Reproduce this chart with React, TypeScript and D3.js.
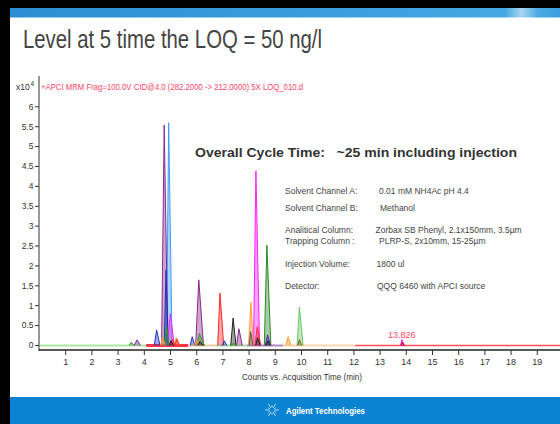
import * as d3 from 'd3'

// chromatogram peaks: start / apex / end time (min), apex height (x10^4 counts)
const peakStart = [3.42, 3.62, 4.38, 4.62, 4.66, 4.76, 4.77, 4.85, 4.90, 5.00, 4.95, 5.15, 5.17, 5.75, 5.92, 5.96, 6.00, 6.05, 6.80, 6.97, 7.30, 7.30, 7.52, 7.98, 8.00, 8.17, 8.22, 8.25, 8.58, 8.62, 8.65, 9.40, 9.83, 9.85, 13.78, 13.80]
const peakApex = [3.50, 3.72, 4.47, 4.70, 4.76, 4.83, 4.85, 4.93, 4.99, 5.07, 5.02, 5.22, 5.24, 5.83, 6.00, 6.08, 6.10, 6.12, 6.89, 7.05, 7.39, 7.40, 7.61, 8.07, 8.06, 8.26, 8.31, 8.32, 8.68, 8.70, 8.72, 9.49, 9.92, 9.92, 13.83, 13.85]
const peakEnd = [3.62, 3.85, 4.60, 4.80, 4.90, 4.92, 4.95, 5.06, 5.15, 5.18, 5.12, 5.35, 5.35, 5.93, 6.12, 6.26, 6.30, 6.25, 7.03, 7.15, 7.50, 7.55, 7.74, 8.16, 8.15, 8.40, 8.45, 8.42, 8.83, 8.82, 8.80, 9.60, 10.06, 10.00, 13.92, 13.93]
const peakHeight = [0.08, 0.14, 0.39, 0.2, 5.54, 1.9, 0.49, 5.6, 0.8, 0.15, 0.12, 0.2, 0.15, 0.22, 0.14, 1.65, 0.3, 0.1, 1.32, 0.12, 0.69, 0.05, 0.42, 1.09, 0.35, 4.39, 0.47, 0.2, 2.52, 0.27, 0.12, 0.22, 0.97, 0.15, 0.15, 0.08]
const peakColor = ['#2b9a2b', '#7a2a9a', '#2233bb', '#ff9a30', '#8b2a8b', '#2233bb', '#2b9a2b', '#3a9cff', '#ff22ff', '#ff2828', '#222222', '#ff9a30', '#ff2828', '#2233bb', '#ff9a30', '#8b2a8b', '#2b9a2b', '#222222', '#ff2828', '#2233bb', '#222222', '#2b9a2b', '#8b2a8b', '#ff9a30', '#555555', '#ff22ff', '#ff2828', '#222222', '#2b8a2b', '#5522aa', '#222222', '#ff9a30', '#66c866', '#806020', '#ff22ff', '#aa0022']

// coloured baseline pieces of the overlaid traces
const baseStart = [0, 4.07, 5.67, 6.72, 7.9, 9.3, 12.05]
const baseEnd = [4.07, 5.67, 6.72, 7.9, 9.3, 12.05, 20]
const baseColor = ['#aee6a6', '#ff3344', '#f6cc9e', '#a8dca0', '#b58ac4', '#fbd6b0', '#ff4d5a']
const baseWidth = [1.8, 3, 2, 2, 2, 2, 1.6]

const xTicks = d3.range(1, 20)
const yTicks = d3.range(0, 6.01, 0.5)

const specLabels = ['Solvent Channel A:', 'Solvent Channel B:', 'Analitical Column:', 'Trapping Column :', 'Injection Volume:', 'Detector:']
const specValues = ['0.01 mM NH4Ac pH 4.4', 'Methanol', 'Zorbax SB Phenyl, 2.1x150mm, 3.5µm', 'PLRP-S, 2x10mm, 15-25µm', '1800 ul', 'QQQ 6460 with APCI source']
const specY = [191, 208, 230.5, 241.5, 264, 286]
const specValueX = [379, 380, 375.5, 379, 376.5, 377]

const W = 560
const H = 424
const font = '"Liberation Sans Narrow", "Liberation Sans", Arial, sans-serif'

export default function App() {
  const x = d3.scaleLinear().domain([0, 20]).range([39.5, 563.5])
  const y = d3.scaleLinear().domain([0, 6]).range([345.5, 106.8])
  const line = d3.line<[number, number]>().x(d => x(d[0])).y(d => y(d[1]))

  const peaks = peakApex.map((t, i) => ({
    pts: [[peakStart[i], 0], [t, peakHeight[i]], [peakEnd[i], 0]] as [number, number][],
    color: peakColor[i],
    h: peakHeight[i],
  }))
  // draw tall peaks first so the small ones sit on top
  const ordered = [...peaks].sort((a, b) => b.h - a.h)

  const spark = d3.range(0, 360, 30)

  return (
    <svg width={W} height={H} style={{ position: 'fixed', left: 0, top: 0 }}>
      <defs>
        <linearGradient id="band" x1="0" x2="1" y1="0" y2="0">
          <stop offset="0" stopColor="#2c8dd4" />
          <stop offset="0.6" stopColor="#3a9fdd" />
          <stop offset="0.9" stopColor="#45a8e2" />
          <stop offset="0.93" stopColor="#a9d6f2" />
          <stop offset="0.96" stopColor="#4aa9e2" />
          <stop offset="1" stopColor="#3aa0de" />
        </linearGradient>
        <clipPath id="plot">
          <rect x={39} y={70} width={W - 39} height={281} />
        </clipPath>
      </defs>
      <rect width={W} height={H} fill="#fff" />
      {/* slide frame */}
      <rect x={0} y={0} width={W} height={8} fill="#000" />
      <rect x={0} y={0} width={10} height={H} fill="#000" />
      <rect x={10} y={8} width={W - 10} height={9.5} fill="url(#band)" />
      <text x={23} y={48} fontFamily={font} fontSize={26} fill="#444" textLength={299} lengthAdjust="spacingAndGlyphs">
        Level at 5 time the LOQ = 50 ng/l
      </text>

      {/* header of the chromatogram */}
      <text x={16} y={90} fontFamily={font} fontSize={8.5} fill="#333">x10</text>
      <text x={30.5} y={86} fontFamily={font} fontSize={6.5} fill="#333">4</text>
      <text x={41} y={90} fontFamily={font} fontSize={8.5} fill="#ff4466" textLength={262} lengthAdjust="spacingAndGlyphs">
        +APCI MRM Frag=100.0V CID@4.0 (282.2000 -&gt; 212.0000) 5X LOQ_010.d
      </text>

      {/* baselines and peaks */}
      <g clipPath="url(#plot)">
        {baseStart.map((s, i) => (
          <line key={'b' + i} x1={x(s)} x2={x(baseEnd[i])} y1={y(0)} y2={y(0)} stroke={baseColor[i]} strokeWidth={baseWidth[i]} />
        ))}
        {ordered.map((p, i) => (
          <path key={'p' + i} d={line(p.pts) ?? ''} fill={p.color} fillOpacity={0.42} stroke={p.color} strokeWidth={1} strokeLinejoin="round" />
        ))}
      </g>
      <text x={x(13.826)} y={338} textAnchor="middle" fontFamily={font} fontSize={9} fill="#ff4466">13.826</text>

      {/* y axis */}
      <line x1={39} x2={39} y1={76} y2={351} stroke="#333" strokeWidth={1} />
      {yTicks.map(v => (
        <g key={'y' + v} transform={`translate(0,${y(v)})`}>
          <line x1={35} x2={39} stroke="#333" />
          <text x={33.5} dy="0.33em" textAnchor="end" fontFamily={font} fontSize={8.5} fill="#333">{d3.format('~g')(v)}</text>
        </g>
      ))}

      {/* x axis */}
      <line x1={39} x2={W} y1={350} y2={350} stroke="#222" strokeWidth={1.6} />
      {xTicks.map(t => (
        <g key={'x' + t} transform={`translate(${x(t)},350)`}>
          <line y1={0} y2={5} stroke="#333" />
          <text y={15} textAnchor="middle" fontFamily={font} fontSize={9} fill="#333">{t}</text>
        </g>
      ))}
      <text x={302} y={380} textAnchor="middle" fontFamily={font} fontSize={9} fill="#333" textLength={120} lengthAdjust="spacingAndGlyphs">
        Counts vs. Acquisition Time (min)
      </text>

      {/* method notes */}
      <text x={195} y={156.5} fontFamily={font} fontSize={13.5} fontWeight="bold" fill="#333" textLength={322} lengthAdjust="spacingAndGlyphs" xmlSpace="preserve">
        Overall Cycle Time:   ~25 min including injection
      </text>
      {specLabels.map((s, i) => (
        <g key={'s' + i}>
          <text x={285} y={specY[i]} dy="0.35em" fontFamily={font} fontSize={8.5} fill="#444">{s}</text>
          <text x={specValueX[i]} y={specY[i]} dy="0.35em" fontFamily={font} fontSize={8.5} fill="#444">{specValues[i]}</text>
        </g>
      ))}

      {/* footer */}
      <rect x={10} y={397} width={W - 10} height={H - 397} fill="#0a84d2" />
      <g transform="translate(272,410)" stroke="#fff" strokeWidth={0.7}>
        {spark.map(a => {
          const r = a % 60 === 0 ? 7 : 4.5
          const rad = (a * Math.PI) / 180
          return <line key={a} x1={Math.cos(rad) * 2.5} y1={Math.sin(rad) * 2.5} x2={Math.cos(rad) * r} y2={Math.sin(rad) * r} />
        })}
      </g>
      <text x={286} y={413.5} fontFamily={font} fontSize={9.5} fontWeight="bold" fill="#fff" textLength={79} lengthAdjust="spacingAndGlyphs">
        Agilent Technologies
      </text>
    </svg>
  )
}
